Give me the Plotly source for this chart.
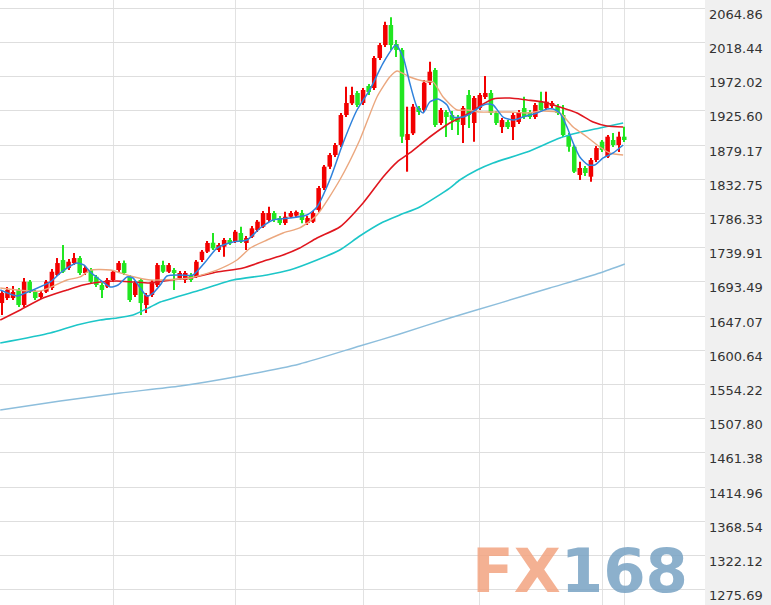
import plotly.graph_objects as go

# ---------------- data ----------------
opens = [1664.8, 1671.6, 1671.6, 1682.5, 1662.1, 1693.8, 1680.2, 1673.0, 1680.2, 1685.2,
         1702.9, 1723.2, 1712.4, 1719.1, 1725.9, 1705.6, 1709.6, 1700.5, 1689.3, 1687.0,
         1696.1, 1709.6, 1719.1, 1700.5, 1675.7, 1696.1, 1662.1, 1675.7, 1689.3, 1716.4,
         1707.3, 1709.6, 1698.8, 1696.1, 1702.9, 1700.5, 1723.2, 1734.5, 1746.7, 1736.8,
         1741.3, 1750.4, 1748.1, 1759.9, 1746.3, 1754.8, 1763.9, 1768.4, 1777.5, 1787.0,
         1780.2, 1773.4, 1782.0, 1783.5, 1787.0, 1773.4, 1775.2, 1791.1, 1820.9, 1849.9,
         1865.7, 1879.3, 1920.0, 1935.9, 1949.9, 1936.3, 1959.4, 1956.7, 1997.4, 2015.0,
         2042.2, 2016.4, 2008.3, 1886.1, 1895.2, 1929.5, 1926.8, 1963.9, 1981.1, 1909.2,
         1924.1, 1920.0, 1916.0, 1906.5, 1947.2, 1909.2, 1929.5, 1944.5, 1949.9, 1922.7,
         1903.7, 1910.5, 1903.7, 1910.5, 1929.5, 1924.1, 1917.3, 1937.7, 1929.5, 1932.2,
         1931.3, 1920.0, 1892.9, 1877.0, 1838.6, 1848.1, 1836.3, 1858.9, 1883.8, 1863.5,
         1886.1, 1879.3, 1890.6]
highs = [1681.1, 1686.6, 1687.9, 1685.2, 1698.8, 1696.1, 1682.5, 1681.1, 1696.1, 1711.0,
         1725.9, 1743.6, 1724.6, 1732.7, 1728.6, 1715.1, 1712.4, 1702.9, 1692.0, 1698.8,
         1709.6, 1721.8, 1722.5, 1702.9, 1694.7, 1698.8, 1678.4, 1696.1, 1719.1, 1722.3,
         1719.1, 1712.4, 1708.3, 1708.3, 1705.6, 1723.2, 1736.8, 1749.0, 1759.9, 1746.3,
         1753.1, 1753.1, 1763.9, 1768.4, 1755.8, 1769.4, 1777.5, 1789.7, 1795.6, 1789.7,
         1782.9, 1788.8, 1789.7, 1790.5, 1791.1, 1782.9, 1789.7, 1823.6, 1852.2, 1868.4,
         1882.0, 1922.8, 1958.4, 1958.4, 1952.6, 1956.7, 1962.1, 2000.1, 2017.8, 2046.7,
         2052.6, 2021.8, 2011.0, 1931.3, 1935.0, 1932.2, 1967.5, 1992.4, 1983.8, 1929.5,
         1926.8, 1925.4, 1920.0, 1932.2, 1954.0, 1945.8, 1949.9, 1972.9, 1954.0, 1925.4,
         1915.9, 1913.2, 1922.8, 1926.8, 1944.9, 1926.8, 1936.3, 1951.7, 1951.7, 1939.0,
         1935.0, 1933.6, 1895.6, 1879.3, 1856.6, 1850.8, 1861.7, 1877.9, 1886.1, 1892.9,
         1895.6, 1897.4, 1904.2]
lows = [1648.6, 1668.9, 1668.9, 1659.4, 1659.4, 1678.4, 1668.9, 1670.3, 1678.4, 1682.5,
        1701.5, 1705.6, 1709.6, 1716.4, 1702.9, 1702.9, 1692.0, 1686.6, 1671.6, 1685.2,
        1693.4, 1706.9, 1702.9, 1666.2, 1673.0, 1648.6, 1651.3, 1673.0, 1686.6, 1705.6,
        1705.6, 1682.5, 1696.1, 1692.0, 1693.4, 1698.8, 1720.5, 1732.7, 1736.8, 1734.1,
        1727.7, 1743.6, 1746.3, 1746.3, 1736.8, 1753.1, 1761.2, 1766.7, 1774.8, 1774.8,
        1770.7, 1770.7, 1780.2, 1781.0, 1773.0, 1770.7, 1773.4, 1788.4, 1818.2, 1846.7,
        1863.0, 1876.6, 1917.3, 1933.6, 1930.9, 1933.6, 1947.2, 1954.0, 1994.7, 2012.3,
        2008.3, 1998.8, 1882.0, 1843.1, 1892.9, 1920.0, 1924.1, 1960.8, 1903.7, 1906.5,
        1890.2, 1899.7, 1892.9, 1882.0, 1902.4, 1883.8, 1926.8, 1941.7, 1920.0, 1906.5,
        1895.6, 1901.0, 1886.1, 1907.8, 1914.6, 1914.6, 1914.6, 1924.1, 1926.8, 1929.5,
        1920.0, 1890.2, 1870.2, 1841.3, 1831.8, 1837.2, 1829.5, 1856.2, 1869.8, 1861.7,
        1876.6, 1869.8, 1883.4]
closes = [1678.4, 1682.5, 1679.8, 1662.1, 1693.8, 1680.2, 1671.6, 1678.4, 1693.8, 1707.3,
          1719.1, 1707.3, 1720.9, 1725.9, 1705.6, 1712.4, 1693.8, 1689.3, 1682.5, 1696.1,
          1707.3, 1719.1, 1705.6, 1668.9, 1692.0, 1664.8, 1675.7, 1693.8, 1716.4, 1707.3,
          1716.4, 1705.6, 1705.6, 1705.6, 1696.1, 1720.9, 1734.5, 1746.3, 1739.1, 1743.6,
          1750.4, 1745.9, 1761.6, 1748.1, 1753.1, 1766.2, 1775.2, 1787.0, 1787.0, 1777.5,
          1773.4, 1782.0, 1787.0, 1788.5, 1777.5, 1780.2, 1787.0, 1820.9, 1849.9, 1865.7,
          1879.3, 1920.0, 1936.3, 1947.2, 1933.6, 1954.0, 1951.3, 1997.4, 2015.0, 2042.2,
          2015.0, 2008.3, 1890.6, 1894.2, 1931.3, 1924.1, 1963.9, 1978.8, 1906.5, 1926.8,
          1917.3, 1913.2, 1910.5, 1929.5, 1920.0, 1943.1, 1947.2, 1949.9, 1922.7, 1909.2,
          1913.2, 1903.7, 1920.0, 1924.1, 1917.3, 1917.3, 1933.6, 1926.8, 1938.1, 1936.3,
          1922.7, 1892.9, 1877.0, 1843.1, 1848.1, 1841.3, 1858.9, 1875.2, 1872.5, 1890.6,
          1879.3, 1890.6, 1886.1]

# moving-average lines, sampled along the bar index
ma5_x = [-0.3, 2.7, 4.2, 5.6, 8.7, 10.5, 12.3, 13.5, 14.8, 15.9, 17.7, 19.5, 20.9, 22.5,
         23.6, 24.9, 26.1, 27.2, 28.5, 29.7, 32.1, 34.4, 36.6, 38.7, 41.6, 44.1, 46.5, 48.8,
         51.8, 54.9, 56.7, 59.0, 61.4, 63.9, 66.2, 68.6, 70.9, 72.2, 73.4, 74.7, 75.8, 77.0,
         78.5, 80.1, 81.2, 83.0, 84.2, 86.0, 87.3, 88.4, 90.2, 92.0, 93.8, 96.3, 98.1, 99.2,
         100.4, 101.7, 102.8, 104.0, 105.5, 106.7, 108.2, 110.0, 111.8]
ma5_y = [1682.5, 1674.4, 1678.4, 1682.5, 1693.4, 1705.6, 1715.1, 1719.1, 1716.4, 1706.9,
         1696.1, 1686.6, 1689.3, 1700.2, 1698.8, 1685.2, 1674.4, 1678.4, 1689.3, 1701.5,
         1702.9, 1702.9, 1720.5, 1739.5, 1747.7, 1750.4, 1766.7, 1777.5, 1780.2, 1784.3,
         1795.2, 1831.8, 1882.0, 1926.8, 1954.0, 1990.6, 2015.0, 1998.8, 1963.5, 1930.9,
         1922.8, 1937.7, 1941.8, 1933.6, 1917.3, 1917.3, 1921.4, 1930.9, 1935.0, 1933.6,
         1917.3, 1913.2, 1917.3, 1922.8, 1928.2, 1928.2, 1922.8, 1903.7, 1882.0, 1863.0,
         1852.2, 1852.2, 1861.7, 1868.5, 1879.3]

ma10_x = [-0.3, 6.9, 11.7, 14.1, 15.9, 19.5, 23.1, 26.7, 28.5, 33.9, 38.7, 42.3, 44.7,
          47.7, 50.6, 53.6, 56.7, 60.8, 64.4, 67.5, 69.8, 71.1, 73.4, 75.8, 77.6, 79.4,
          81.9, 83.7, 86.0, 88.4, 91.4, 94.5, 97.4, 100.4, 102.8, 105.3, 107.6, 109.4, 111.8]
ma10_y = [1685.2, 1681.1, 1696.1, 1700.2, 1709.6, 1709.6, 1701.5, 1696.1, 1696.1, 1698.8,
          1709.6, 1723.2, 1739.5, 1750.4, 1759.9, 1766.7, 1784.3, 1831.8, 1886.1, 1944.5,
          1971.6, 1979.8, 1971.6, 1966.2, 1964.8, 1944.5, 1926.8, 1926.8, 1924.1, 1924.1,
          1924.1, 1922.8, 1925.5, 1922.8, 1903.7, 1890.2, 1876.6, 1868.5, 1865.7]

ma20_x = [-0.3, 3.3, 7.4, 11.7, 14.6, 17.7, 20.7, 23.6, 26.7, 30.3, 33.9, 38.7, 43.4,
          47.7, 50.6, 53.6, 56.7, 60.8, 65.0, 68.6, 71.1, 73.4, 77.0, 80.6, 84.2, 86.0,
          88.4, 91.4, 94.5, 97.4, 100.4, 103.5, 106.4, 108.9, 111.8]
ma20_y = [1641.8, 1655.4, 1671.6, 1682.5, 1689.3, 1693.4, 1694.7, 1693.4, 1692.0, 1696.1,
          1698.8, 1706.9, 1712.4, 1723.2, 1730.0, 1739.5, 1753.1, 1768.0, 1800.6, 1835.9,
          1856.2, 1868.5, 1890.2, 1909.2, 1922.8, 1932.2, 1941.8, 1943.1, 1940.4, 1937.7,
          1930.9, 1922.8, 1910.5, 1905.1, 1903.7]

ma60_x = [-0.3, 8.7, 13.5, 17.7, 20.7, 23.6, 26.7, 28.5, 35.7, 41.6, 47.7, 51.8, 56.7,
          60.8, 64.4, 68.6, 71.6, 75.2, 80.6, 82.4, 85.5, 88.4, 94.5, 100.4, 103.5, 107.6, 111.8]
ma60_y = [1610.6, 1624.2, 1635.0, 1641.8, 1644.5, 1648.6, 1659.4, 1666.2, 1682.5, 1696.1,
          1702.9, 1709.6, 1723.2, 1736.8, 1755.8, 1774.8, 1784.3, 1795.2, 1820.9, 1831.8,
          1845.4, 1854.9, 1869.8, 1888.8, 1895.6, 1902.4, 1909.2]

ma120_x = [-0.3, 10.5, 21.3, 32.1, 42.9, 53.6, 64.4, 71.6, 80.6, 89.6, 98.6, 107.6, 112.1]
ma120_y = [1519.6, 1531.8, 1542.7, 1552.2, 1565.8, 1582.1, 1606.5, 1622.8, 1644.5, 1664.8,
           1685.2, 1705.6, 1717.8]

price_ticks = [2064.86, 2018.44, 1972.02, 1925.60, 1879.17, 1832.75, 1786.33, 1739.91,
               1693.49, 1647.07, 1600.64, 1554.22, 1507.80, 1461.38, 1414.96, 1368.54,
               1322.12, 1275.69]
month_lines = [20, 42, 65, 86, 108, 112]

# ---------------- figure ----------------
UP = "#F20000"
DOWN = "#22E622"

idx = list(range(len(opens)))
up_i = [i for i in idx if closes[i] >= opens[i]]
dn_i = [i for i in idx if closes[i] < opens[i]]

fig = go.Figure()


def add_candles(sel, color):
    fig.add_trace(go.Bar(
        x=sel, base=[lows[i] for i in sel], y=[highs[i] - lows[i] for i in sel],
        width=0.2, marker=dict(color=color, line=dict(width=0)),
        hoverinfo="skip", showlegend=False))
    fig.add_trace(go.Bar(
        x=sel, base=[min(opens[i], closes[i]) for i in sel],
        y=[max(abs(closes[i] - opens[i]), 1.0) for i in sel],
        width=0.82, marker=dict(color=color, line=dict(width=0)),
        hoverinfo="skip", showlegend=False))


add_candles(up_i, UP)
add_candles(dn_i, DOWN)

for xs, ys, col, w in [
    (ma120_x, ma120_y, "#8DBEDC", 1.4),
    (ma60_x, ma60_y, "#1CC6C8", 1.6),
    (ma20_x, ma20_y, "#E0161E", 1.6),
    (ma10_x, ma10_y, "#EBA77E", 1.4),
    (ma5_x, ma5_y, "#2F82DC", 1.5),
]:
    fig.add_trace(go.Scatter(x=xs, y=ys, mode="lines",
                             line=dict(color=col, width=w, shape="spline", smoothing=0.6),
                             hoverinfo="skip", showlegend=False))

fig.add_annotation(
    xref="paper", yref="paper", x=0.823, y=0.057, xanchor="center", yanchor="middle",
    text='<b><span style="color:rgba(242,163,128,0.85)">FX</span>'
         '<span style="color:rgba(120,162,195,0.85)">168</span></b>',
    showarrow=False, font=dict(family="DejaVu Sans", size=61))

fig.update_layout(
    width=771, height=605,
    margin=dict(l=0, r=66, t=0, b=0),
    paper_bgcolor="#F0F0F0", plot_bgcolor="#FFFFFF",
    barmode="overlay", showlegend=False,
    xaxis=dict(range=[-0.342, 126.53], tickvals=month_lines, showticklabels=False,
               showgrid=True, gridcolor="#E2E2E2", gridwidth=1, zeroline=False,
               ticks="", showline=False, fixedrange=True),
    yaxis=dict(range=[1254.97, 2076.13], side="right", tickvals=price_ticks,
               ticktext=[f"{v:.2f}" for v in price_ticks],
               showgrid=True, gridcolor="#DEDEDE", gridwidth=1, zeroline=False,
               ticks="", showline=False, ticklabelshift=6, ticklabelstandoff=3,
               tickfont=dict(family="Verdana, DejaVu Sans", size=13, color="#333333"),
               fixedrange=True),
)

fig.write_html("out.html", config={"displayModeBar": False},
               post_script="document.body.style.margin='0';")
